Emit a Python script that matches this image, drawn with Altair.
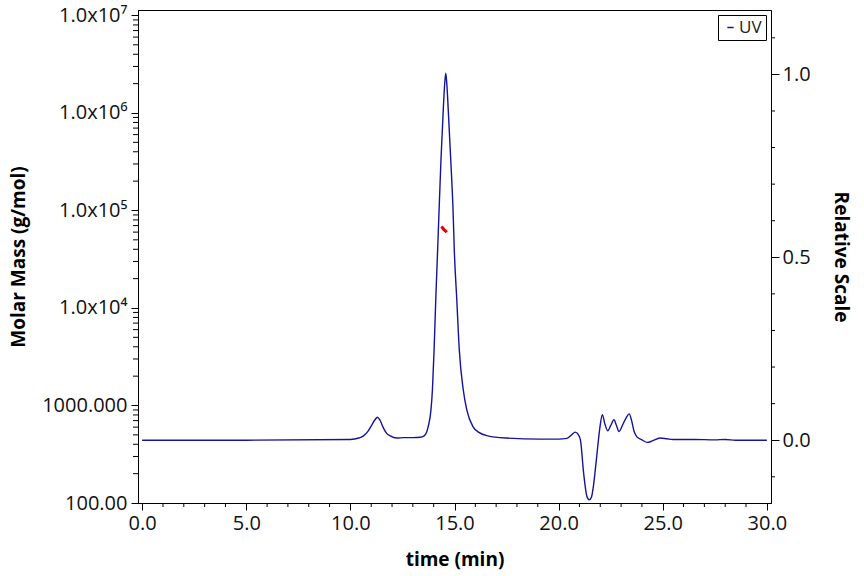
import altair as alt
import pandas as pd

# UV trace (relative scale)
UV_TIME = [0.0, 5.0, 10.0, 10.4, 10.63, 10.85, 11.03, 11.18, 11.30, 11.42, 11.59, 11.75,
           11.91, 12.23, 12.55, 13.0, 13.35, 13.54, 13.66, 13.74, 13.87, 13.94, 14.02,
           14.10, 14.19, 14.26, 14.35, 14.46, 14.53, 14.58, 14.63, 14.70, 14.82, 14.93,
           14.99, 15.11, 15.23, 15.42, 15.59, 15.88, 16.15, 16.6, 17.5, 19.1, 20.0, 20.4,
           20.65, 20.79, 20.95, 21.05, 21.2, 21.36, 21.47, 21.58, 21.67, 21.83, 21.99,
           22.10, 22.22, 22.36, 22.50, 22.66, 22.78, 22.90, 23.1, 23.25, 23.39, 23.5,
           23.62, 23.75, 24.0, 24.26, 24.5, 24.87, 25.2, 25.49, 26.5, 27.5, 28.0, 28.5, 30.0]
UV_REL = [0.0, 0.0, 0.002, 0.006, 0.012, 0.025, 0.042, 0.056, 0.063, 0.055, 0.033, 0.018,
          0.012, 0.006, 0.007, 0.007, 0.008, 0.012, 0.022, 0.038, 0.083, 0.138, 0.247,
          0.384, 0.52, 0.63, 0.766, 0.903, 0.975, 1.003, 0.975, 0.903, 0.766, 0.63,
          0.52, 0.384, 0.247, 0.138, 0.083, 0.038, 0.022, 0.012, 0.006, 0.003, 0.003, 0.005,
          0.016, 0.022, 0.015, 0.0, -0.089, -0.154, -0.163, -0.155, -0.126, -0.044, 0.038,
          0.070, 0.045, 0.026, 0.040, 0.056, 0.040, 0.024, 0.045, 0.062, 0.072, 0.055,
          0.025, 0.010, 0.001, -0.006, -0.002, 0.006, 0.004, 0.002, 0.002, 0.001, 0.002, 0.0, 0.0]

# Molar mass points (g/mol) across the main peak
MM_TIME = [14.36, 14.42, 14.47, 14.52, 14.58, 14.63]
MM_MASS = [68200, 66700, 64300, 62800, 61400, 59800]

# Axis ticks
X_MAJOR = [0, 5, 10, 15, 20, 25, 30]
X_MINOR = [t for t in range(0, 31) if t % 5]
R_MAJOR = [0.0, 0.5, 1.0]
R_MINOR = [-0.1, 0.1, 0.2, 0.3, 0.4, 0.6, 0.7, 0.8, 0.9, 1.1]
L_MAJOR = [100, 1000, 10000, 100000, 1000000, 10000000]
L_MINOR = [m * 10 ** e for e in range(2, 7) for m in range(2, 10)]
L_LABELS = ["100.00", "1000.000", "1.0x10⁴", "1.0x10⁵", "1.0x10⁶", "1.0x10⁷"]

X_DOMAIN = [-0.2, 30.2]
R_DOMAIN = [-0.1716, 1.176]
L_DOMAIN = [100, 1.138e7]

W, H = 633, 493
NAVY = "#14149a"
RED = "#e00000"
FONT = "Open Sans"

uv = pd.DataFrame({"time": UV_TIME, "rel": UV_REL, "series": ["UV"] * len(UV_TIME)})
mm = pd.DataFrame({"time": MM_TIME, "mass": MM_MASS})
x_minor = pd.DataFrame({"v": X_MINOR})
r_minor = pd.DataFrame({"v": R_MINOR})
l_minor = pd.DataFrame({"v": L_MINOR})

left_expr = "".join(f"datum.value == {k} ? '{v}' : " for k, v in zip(L_MAJOR, L_LABELS)) + "''"

x_scale = alt.Scale(domain=X_DOMAIN, nice=False, zero=False)
r_scale = alt.Scale(domain=R_DOMAIN, nice=False, zero=False)
l_scale = alt.Scale(type="log", domain=L_DOMAIN, nice=False, zero=False)

# Molar mass layer with the bottom and left axes
mm_line = alt.Chart(mm).mark_line(strokeWidth=3, color=RED).encode(
    x=alt.X("time:Q", scale=x_scale,
            axis=alt.Axis(orient="bottom", title="time (min)", values=X_MAJOR, format=".1f",
                          tickSize=7, labelPadding=3, titlePadding=17, grid=False)),
    y=alt.Y("mass:Q", scale=l_scale,
            axis=alt.Axis(orient="left", title="Molar Mass (g/mol)", values=L_MAJOR,
                          labelExpr=left_expr, tickSize=7, labelPadding=4,
                          titlePadding=13, grid=False)),
)

# UV trace with the right axis and the legend
uv_line = alt.Chart(uv).mark_line(strokeWidth=1.4, interpolate="monotone").encode(
    x=alt.X("time:Q", scale=x_scale, axis=None),
    y=alt.Y("rel:Q", scale=r_scale,
            axis=alt.Axis(orient="right", title="Relative Scale", values=R_MAJOR, format=".1f",
                          tickSize=8, labelPadding=3, titlePadding=20, grid=False)),
    color=alt.Color(
        "series:N",
        scale=alt.Scale(domain=["UV"], range=[NAVY]),
        legend=alt.Legend(
            title=None, orient="top-right", offset=5, padding=4, strokeColor="black",
            fillColor="white", symbolType="stroke", symbolSize=40, symbolStrokeWidth=1.5,
            labelOffset=0, labelFontSize=17, labelFont=FONT, labelColor="#222",
            cornerRadius=0,
        ),
    ),
)

# Minor tick marks of the three axes, placed through the same scales
x_minor_ticks = alt.Chart(x_minor).mark_rule(color="black", strokeWidth=1).encode(
    x=alt.X("v:Q", scale=x_scale, axis=None),
    y=alt.value(H), y2=alt.value(H + 4),
)
l_minor_ticks = alt.Chart(l_minor).mark_rule(color="black", strokeWidth=1).encode(
    y=alt.Y("v:Q", scale=l_scale, axis=None),
    x=alt.value(0), x2=alt.value(-5),
)
r_minor_ticks = alt.Chart(r_minor).mark_rule(color="black", strokeWidth=1).encode(
    y=alt.Y("v:Q", scale=r_scale, axis=None),
    x=alt.value(W), x2=alt.value(W + 4),
)

chart = alt.layer(
    mm_line, uv_line, x_minor_ticks, l_minor_ticks, r_minor_ticks
).resolve_scale(x="independent", y="independent").properties(
    width=W, height=H,
    background="white",
    autosize=alt.AutoSizeParams(type="none"),
    padding={"left": 138, "top": 10, "right": 93, "bottom": 73},
).configure_view(stroke="black", strokeWidth=1).configure_axis(
    domainColor="black", tickColor="black", labelColor="#111", titleColor="black",
    labelFont=FONT, titleFont=FONT, labelFontSize=20, titleFontSize=19,
    titleFontWeight="bold", labelFontWeight="normal",
)

chart.save("out.html", embed_options={"renderer": "svg", "actions": False})
